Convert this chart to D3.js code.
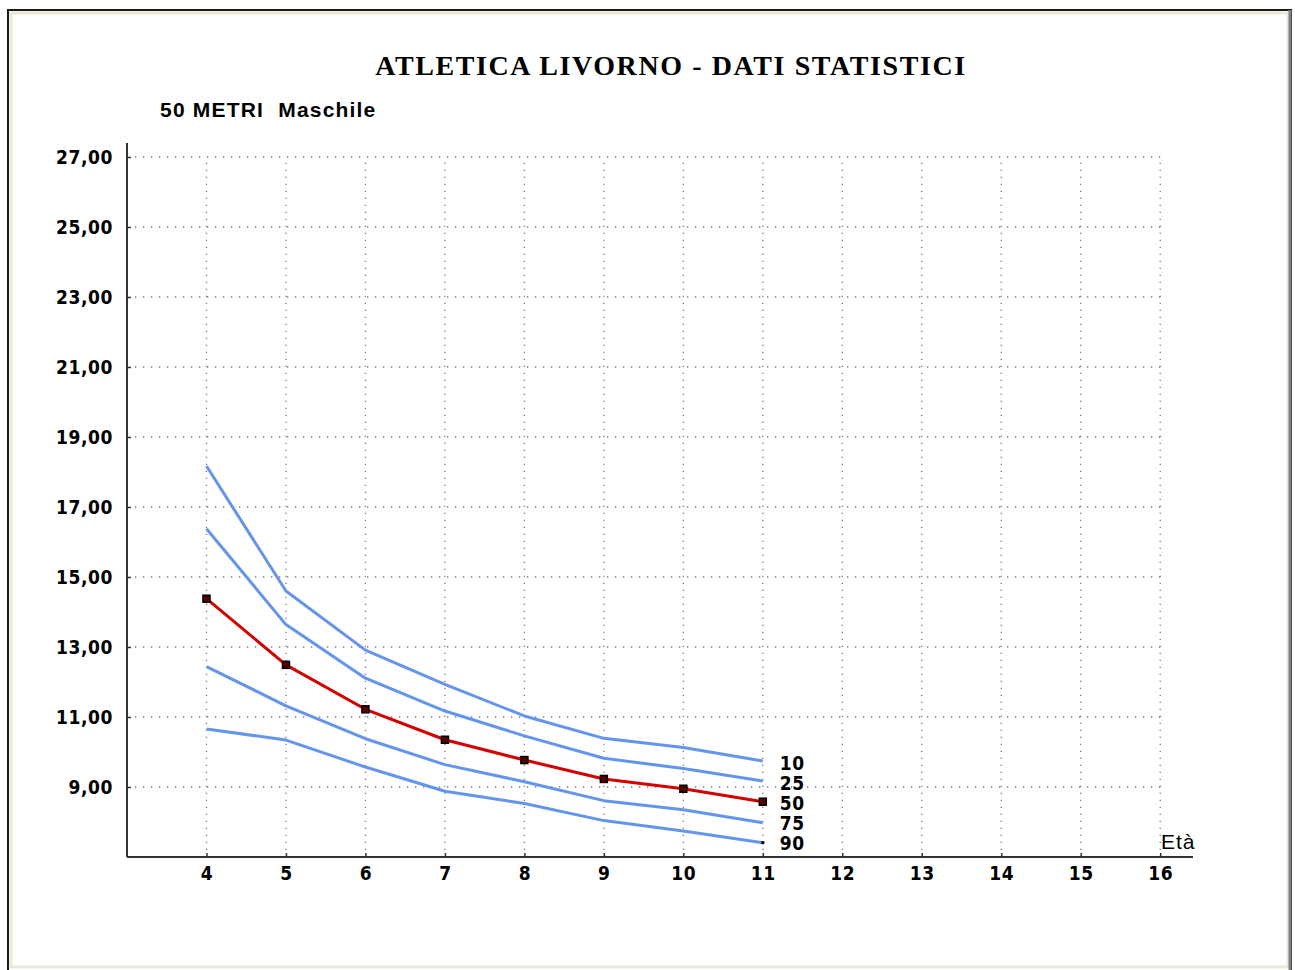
<!DOCTYPE html>
<html>
<head>
<meta charset="utf-8">
<script src="https://cdn.jsdelivr.net/npm/d3@7"></script>
<style>
  html, body { margin: 0; padding: 0; background: #fff; }
  svg { display: block; }
</style>
</head>
<body>
<svg id="chart" width="1295" height="970"></svg>
<script>
// ---- Data ----
const ages = [4, 5, 6, 7, 8, 9, 10, 11];
const p10 = [18.17, 14.60, 12.91, 11.93, 11.03, 10.39, 10.13, 9.74];
const p25 = [16.38, 13.64, 12.11, 11.17, 10.46, 9.82, 9.53, 9.17];
const p50 = [14.38, 12.49, 11.22, 10.35, 9.77, 9.23, 8.95, 8.58];
const p75 = [12.44, 11.32, 10.38, 9.64, 9.15, 8.61, 8.35, 7.98];
const p90 = [10.66, 10.34, 9.57, 8.88, 8.53, 8.04, 7.74, 7.41];
const seriesNames = ["10", "25", "50", "75", "90"];
const xTicks = [4, 5, 6, 7, 8, 9, 10, 11, 12, 13, 14, 15, 16];
const yTicks = [9, 11, 13, 15, 17, 19, 21, 23, 25, 27];
const titleText = "ATLETICA LIVORNO - DATI STATISTICI";
const subtitleText = "50 METRI  Maschile";
const xAxisLabel = "Età";

const series = [p10, p25, p50, p75, p90];

// ---- Setup ----
const svg = d3.select("#chart");
const x = d3.scaleLinear().domain([3, 16.4]).range([127, 1192]);
const y = d3.scaleLinear().domain([7, 27]).range([857, 157]);
const BLUE = "#6495ED";
const RED = "#D40000";
const LABEL_FONT = "'DejaVu Sans Condensed', 'DejaVu Sans', sans-serif";

// frame
svg.append("rect").attr("x", 8).attr("y", 10).attr("width", 1283).attr("height", 970)
  .attr("fill", "#fff").attr("stroke", "#1a1a1a").attr("stroke-width", 2);
svg.append("rect").attr("x", 11).attr("y", 13).attr("width", 1277).attr("height", 954)
  .attr("fill", "none").attr("stroke", "#ebe8d8").attr("stroke-width", 3);
svg.append("line").attr("x1", 1290).attr("x2", 1290).attr("y1", 10).attr("y2", 970)
  .attr("stroke", "#808080").attr("stroke-width", 3);

// title
svg.append("text").attr("x", 671).attr("y", 75).attr("text-anchor", "middle")
  .attr("font-family", "'Liberation Serif', 'Times New Roman', serif")
  .attr("font-weight", "bold").attr("font-size", 28).attr("letter-spacing", 1.6)
  .attr("fill", "#000").text(titleText);
svg.append("text").attr("x", 160).attr("y", 117)
  .attr("font-family", "'Liberation Sans', Arial, sans-serif")
  .attr("font-weight", "bold").attr("font-size", 21).attr("letter-spacing", 1.2)
  .style("white-space", "pre").attr("fill", "#000").text(subtitleText);

// grid
const grid = svg.append("g");
grid.selectAll(".hg").data(yTicks).join("line")
  .attr("x1", x(3)).attr("x2", x(16)).attr("y1", d => y(d)).attr("y2", d => y(d))
  .attr("stroke", "#7a7a7a").attr("stroke-width", 1.3).attr("stroke-dasharray", "1.3,6.7");
grid.selectAll(".vg").data(xTicks).join("line")
  .attr("x1", d => x(d)).attr("x2", d => x(d)).attr("y1", y(7)).attr("y2", y(27))
  .attr("stroke", "#7a7a7a").attr("stroke-width", 1.3).attr("stroke-dasharray", "1.3,5.7");

// axes
const fmt = d => d3.format(".2f")(d).replace(".", ",");
const yAxis = svg.append("g").attr("transform", `translate(${x(3)},0)`)
  .call(d3.axisLeft(y).tickValues(yTicks).tickFormat(fmt).tickSizeInner(-4).tickSizeOuter(0).tickPadding(14));
const xAxis = svg.append("g").attr("transform", `translate(0,${y(7)})`)
  .call(d3.axisBottom(x).tickValues(xTicks).tickSizeInner(-4).tickSizeOuter(0).tickPadding(10));
[yAxis, xAxis].forEach(g => {
  g.select(".domain").remove();
  g.selectAll(".tick line").attr("stroke", "#333").attr("stroke-width", 1.5);
  g.selectAll("text").attr("font-family", LABEL_FONT)
    .attr("font-weight", "bold").attr("font-size", 19).attr("letter-spacing", 0.6).attr("fill", "#000");
});
svg.append("line").attr("x1", x(3)).attr("x2", x(3)).attr("y1", 143).attr("y2", y(7))
  .attr("stroke", "#333").attr("stroke-width", 2);
svg.append("line").attr("x1", x(3)).attr("x2", 1193).attr("y1", y(7)).attr("y2", y(7))
  .attr("stroke", "#333").attr("stroke-width", 2);
svg.append("text").attr("x", 1161).attr("y", 849)
  .attr("font-family", "'Liberation Sans', Arial, sans-serif")
  .attr("font-size", 21).attr("letter-spacing", 1).attr("fill", "#000").text(xAxisLabel);

// lines
const line = d3.line().x((d, i) => x(ages[i])).y(d => y(d));
const lines = svg.append("g");
series.forEach((s, k) => {
  if (k === 2) return;
  lines.append("path").datum(s).attr("d", line).attr("fill", "none")
    .attr("stroke", BLUE).attr("stroke-width", 3).attr("stroke-linejoin", "round");
});
lines.append("path").datum(p50).attr("d", line).attr("fill", "none")
  .attr("stroke", RED).attr("stroke-width", 3).attr("stroke-linejoin", "round");

// markers on median
svg.append("g").selectAll("rect").data(p50).join("rect")
  .attr("x", (d, i) => x(ages[i]) - 3.5).attr("y", d => y(d) - 3.5)
  .attr("width", 7).attr("height", 7).attr("fill", "#5a0000").attr("stroke", "#000").attr("stroke-width", 1.5);
// small end dot on the 90 line
svg.append("rect").attr("x", x(ages[ages.length - 1]) - 1.5).attr("y", y(p90[p90.length - 1]) - 1.5)
  .attr("width", 3).attr("height", 3).attr("fill", "#000");

// series labels
svg.append("g").selectAll("text").data(seriesNames).join("text")
  .attr("x", x(11) + 17).attr("y", (d, i) => 770 + i * 20)
  .attr("font-family", LABEL_FONT)
  .attr("font-weight", "bold").attr("font-size", 19).attr("letter-spacing", 0.6)
  .attr("fill", "#000").text(d => d);
</script>
</body>
</html>
